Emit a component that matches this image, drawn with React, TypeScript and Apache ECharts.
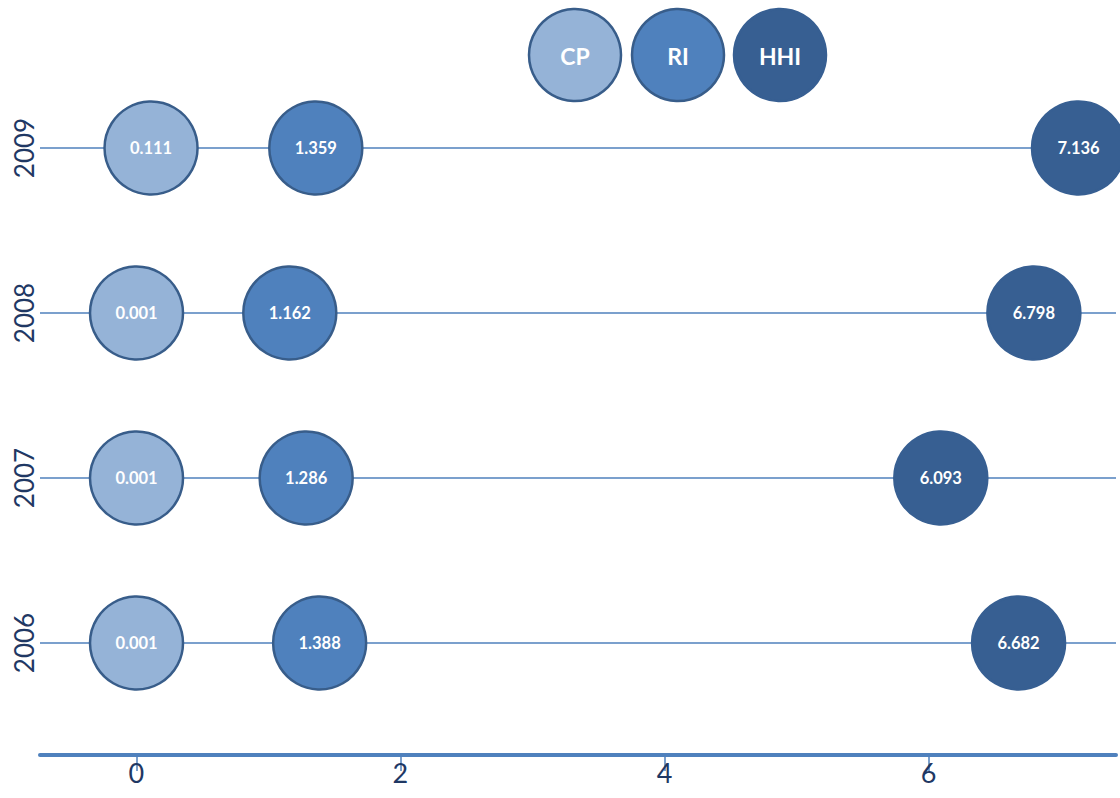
import React, { useEffect, useRef } from "react";
import * as echarts from "echarts";

const years = ["2006", "2007", "2008", "2009"];
const cpValues = [0.001, 0.001, 0.001, 0.111];
const riValues = [1.388, 1.286, 1.162, 1.359];
const hhiValues = [6.682, 6.093, 6.798, 7.136];
const xTicks = [0, 2, 4, 6];
const seriesNames = ["CP", "RI", "HHI"];
const seriesColors = ["#95B3D7", "#4F81BD", "#375F92"];
const borderColors = ["#385D8A", "#385D8A", "#375F92"];

export default function App() {
  const ref = useRef<HTMLDivElement>(null);
  useEffect(() => {
    document.body.style.margin = "0";
    if (!ref.current) return;
    const chart = echarts.init(ref.current, undefined, { renderer: "svg" });
    const valueSets = [cpValues, riValues, hhiValues];
    const series = valueSets.map((vals, si) => ({
      name: seriesNames[si],
      type: "scatter",
      symbol: "circle",
      symbolSize: 93,
      data: vals.map((v, i) => [v, years[i]]),
      itemStyle: {
        color: seriesColors[si],
        borderColor: borderColors[si],
        borderWidth: 2.5,
        opacity: 1,
      },
      label: {
        show: true,
        position: "inside",
        color: "#FFFFFF",
        fontFamily: "Lato",
        fontWeight: "bold",
        fontSize: 16.5,
        formatter: (p: any) => Number(p.value[0]).toFixed(3),
      },
      emphasis: { disabled: true },
      z: 3,
    }));

    const legendCenters = [575, 678, 780];
    const graphic: any[] = [];
    seriesNames.forEach((n, i) => {
      graphic.push({
        type: "circle",
        shape: { cx: legendCenters[i], cy: 55, r: 46 },
        style: { fill: seriesColors[i], stroke: borderColors[i], lineWidth: 2.5 },
        z: 10,
      });
      graphic.push({
        type: "text",
        x: legendCenters[i],
        y: 56,
        style: {
          text: n,
          fill: "#FFFFFF",
          font: "bold 23px Lato",
          align: "center",
          verticalAlign: "middle",
        },
        z: 11,
      });
    });

    chart.setOption({
      animation: false,
      backgroundColor: "#FFFFFF",
      grid: { left: 40, right: 4, top: 148, bottom: 155, containLabel: false },
      xAxis: {
        type: "value",
        min: -0.73,
        max: 7.42,
        offset: 112,
        axisLine: { show: true, lineStyle: { color: "#4F81BD", width: 4 } },
        axisTick: {
          show: true,
          length: 16,
          customValues: xTicks,
          lineStyle: { color: "#4F81BD", width: 1.5 },
        },
        axisLabel: {
          customValues: xTicks,
          color: "#1F3864",
          fontFamily: "Lato",
          fontSize: 27,
          margin: 4,
        },
        splitLine: { show: false },
      },
      yAxis: {
        type: "category",
        data: years,
        boundaryGap: false,
        axisLine: { show: false },
        axisTick: { show: false },
        axisLabel: {
          rotate: 90,
          color: "#1F3864",
          fontFamily: "Lato",
          fontSize: 26,
          margin: 3,
        },
        splitLine: { show: true, lineStyle: { color: "#4F81BD", width: 1.5 } },
      },
      graphic,
      series,
    });
    return () => chart.dispose();
  }, []);
  return <div ref={ref} style={{ width: 1120, height: 798 }} />;
}
